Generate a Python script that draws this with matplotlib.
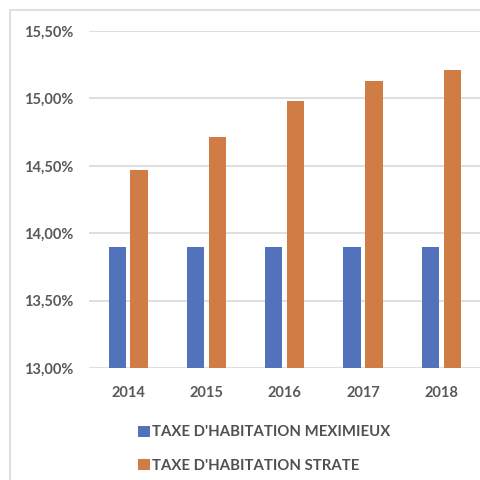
import matplotlib
matplotlib.use("Agg")
import matplotlib.pyplot as plt
from matplotlib.patches import Rectangle
from matplotlib.ticker import FuncFormatter
import numpy as np

years = ["2014", "2015", "2016", "2017", "2018"]
meximieux = [13.90, 13.90, 13.90, 13.90, 13.90]
strate = [14.47, 14.71, 14.98, 15.13, 15.21]
series_names = ["TAXE D'HABITATION MEXIMIEUX", "TAXE D'HABITATION STRATE"]

plt.rcParams['font.family'] = ['Lato', 'DejaVu Sans']

BLUE = "#5272BC"
ORANGE = "#D07D45"
GRID = "#D9D9D9"
TXT = "#595959"

fig = plt.figure(figsize=(4.8, 4.8), dpi=100)
ax = fig.add_axes([89/480, 1-368/480, 391.5/480, 337/480])

x = np.arange(len(years))
w = 0.22
ax.bar(x - 0.14, meximieux, width=w, color=BLUE, label=series_names[0], zorder=3)
ax.bar(x + 0.14, strate, width=w, color=ORANGE, label=series_names[1], zorder=3)

ax.set_xlim(-0.5, len(years) - 0.5)
ax.set_ylim(13.0, 15.5)
ax.set_yticks(np.arange(13.0, 15.51, 0.5))
ax.yaxis.set_major_formatter(FuncFormatter(lambda v, p: f"{v:.2f}%".replace(".", ",")))
ax.set_xticks(x)
ax.set_xticklabels(years)

ax.grid(axis="y", color=GRID, linewidth=1.2, zorder=0)
for s in ax.spines.values():
    s.set_visible(False)
ax.tick_params(length=0, colors=TXT)
ax.tick_params(axis="y", pad=11.5)
ax.tick_params(axis="x", pad=13)
for lbl in ax.get_xticklabels() + ax.get_yticklabels():
    lbl.set_fontsize(10.5)
    lbl.set_fontweight("bold")

leg = fig.legend(loc="upper left", bbox_to_anchor=(131/480, 1-418/480),
                 frameon=False, handlelength=0.75, handleheight=0.75,
                 handletextpad=0.15, labelspacing=1.3, borderpad=0,
                 prop={"size": 10.7, "weight": "bold"})
for t in leg.get_texts():
    t.set_color("#505050")

# outer chart frame (cropped on right and bottom)
fig.add_artist(Rectangle((9.5/480, -0.1), 1.2, 1.1 - 9.5/480,
                         transform=fig.transFigure, fill=False,
                         edgecolor=GRID, linewidth=1.2))

fig.savefig("out.png", dpi=100)
